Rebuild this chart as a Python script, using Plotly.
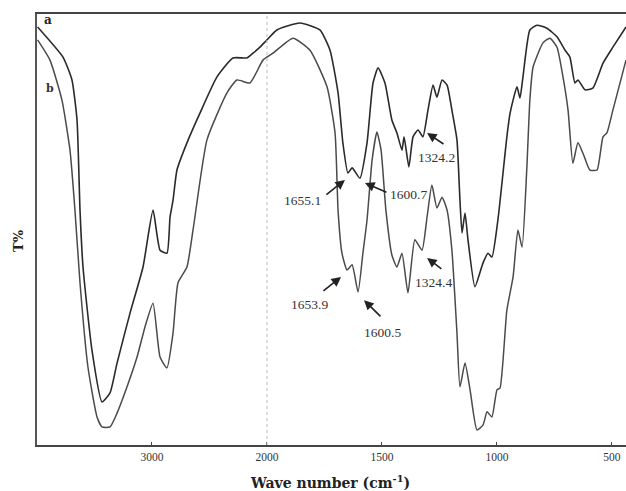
import numpy as np
import plotly.graph_objects as go

# ---- data (wavenumber cm^-1, transmittance %) ----
wn_a = [3995, 3774, 3696, 3652, 3626, 3600, 3522, 3435, 3365, 3304, 3191, 3078, 2991,
        2930, 2870, 2843, 2817, 2783, 2696, 2583, 2435, 2296, 2174, 2122, 2061, 2000,
        1957, 1857, 1770, 1726, 1691, 1670, 1648, 1630, 1596, 1565, 1539, 1517, 1487,
        1457, 1435, 1413, 1404, 1383, 1365, 1343, 1322, 1300, 1278, 1261, 1239, 1217,
        1196, 1174, 1161, 1152, 1139, 1126, 1096, 1061, 1039, 1022, 996, 957, 943, 913,
        900, 887, 857, 826, 783, 739, 704, 683, 661, 648, 617, 583, 539, 496, 439]
t_a = [97.0, 90.0, 84.7, 75.4, 54.5, 41.3, 22.0, 10.0, 12.1, 19.0, 30.6, 41.3, 54.5,
       45.2, 44.5, 52.9, 56.8, 63.8, 70.1, 77.0, 85.4, 89.8, 89.8, 90.9, 92.3, 94.0,
       96.3, 97.9, 96.3, 91.6, 81.7, 70.1, 63.1, 64.3, 61.9, 70.1, 84.0, 87.5, 84.0,
       75.4, 72.4, 68.4, 71.5, 64.5, 71.5, 73.1, 71.5, 77.7, 83.5, 80.7, 84.7, 83.5,
       77.7, 70.8, 56.8, 49.2, 53.8, 47.6, 36.7, 42.2, 44.5, 43.6, 52.2, 71.5, 77.0, 83.1,
       80.5, 85.4, 96.3, 97.4, 96.7, 94.7, 91.6, 90.0, 84.0, 84.7, 82.4, 82.8, 88.6, 92.3, 97.0]

wn_b = [3995, 3887, 3783, 3713, 3670, 3626, 3557, 3478, 3435, 3365, 3304, 3217, 3130,
        3061, 2991, 2930, 2870, 2817, 2774, 2696, 2643, 2522, 2348, 2261, 2148, 2035,
        1974, 1887, 1813, 1739, 1704, 1691, 1674, 1652, 1630, 1604, 1583, 1565, 1543,
        1522, 1504, 1483, 1457, 1435, 1413, 1387, 1357, 1326, 1304, 1283, 1261, 1239,
        1217, 1196, 1174, 1161, 1139, 1117, 1087, 1061, 1043, 1022, 1000, 987, 957, 930,
        909, 891, 870, 857, 843, 800, 770, 739, 713, 691, 670, 648, 626, 596, 565, 539,
        522, 496, 439]
t_b = [94.0, 89.3, 80.0, 68.4, 54.5, 37.6, 18.1, 6.5, 4.2, 4.2, 7.4, 13.5, 20.4,
       27.4, 32.9, 20.4, 17.9, 26.0, 37.6, 41.3, 49.9, 70.8, 81.7, 84.7, 84.0, 89.3,
       90.9, 94.4, 91.6, 83.1, 72.4, 54.5, 44.5, 40.6, 41.8, 35.5, 44.5, 52.2, 66.1,
       72.6, 68.4, 54.5, 44.1, 41.3, 44.5, 35.3, 47.6, 45.2, 52.9, 60.3, 55.0, 57.5,
       54.5, 45.2, 26.0, 13.5, 19.0, 12.8, 3.5, 4.6, 7.7, 6.5, 12.8, 13.2, 31.3, 39.0,
       49.9, 45.9, 64.5, 80.0, 87.7, 93.3, 94.4, 92.3, 85.4, 77.7, 65.4, 70.1, 67.7, 63.8,
       63.8, 71.5, 72.4, 77.7, 89.3]

tick_wn = [3000, 2000, 1500, 1000, 500]
tick_text = ["3000", "2000", "1500", "1000", "500"]

# peak labels: (text, head wn, head T, tail wn, tail T, text wn, text T)
peaks = [
    ("1655.1", 1661, 61.5, 1748, 57.8, 1844, 56.8),
    ("1600.7", 1574, 60.8, 1474, 58.5, 1383, 58.2),
    ("1324.2", 1304, 72.4, 1226, 69.6, 1265, 66.8),
    ("1653.9", 1678, 39.0, 1761, 35.5, 1817, 32.5),
    ("1600.5", 1578, 33.6, 1500, 29.5, 1496, 26.2),
    ("1324.4", 1304, 43.4, 1235, 40.6, 1278, 37.8),
]


def to_u(wn):
    """FTIR axis with halved scale above 2000 cm-1."""
    wn = np.asarray(wn, dtype=float)
    return np.where(wn > 2000, 2000 + (wn - 2000) / 2.0, wn)


fig = go.Figure()
fig.add_trace(go.Scatter(x=to_u(wn_a), y=t_a, mode="lines",
                         line=dict(color="#2a2a2a", width=1.6, shape="spline", smoothing=0.5),
                         showlegend=False))
fig.add_trace(go.Scatter(x=to_u(wn_b), y=t_b, mode="lines",
                         line=dict(color="#4a4a4a", width=1.5, shape="spline", smoothing=0.5),
                         showlegend=False))

serif = "Liberation Serif"
ann = []
for txt, hx, hy, tx, ty, lx, ly in peaks:
    ann.append(dict(x=float(to_u(hx)), y=hy, ax=float(to_u(tx)), ay=ty,
                    axref="x", ayref="y", xref="x", yref="y", text="",
                    showarrow=True, arrowhead=2, arrowsize=1.2, arrowwidth=1.6,
                    arrowcolor="#222"))
    ann.append(dict(x=float(to_u(lx)), y=ly, xref="x", yref="y", text=txt,
                    showarrow=False, font=dict(family=serif, size=13.5, color="#333")))

ann.append(dict(x=0.0085, y=0.985, xref="paper", yref="paper", text="<b>a</b>",
                showarrow=False, xanchor="left", yanchor="middle",
                font=dict(family="DejaVu Serif", size=12, color="#222")))
ann.append(dict(x=0.012, y=0.826, xref="paper", yref="paper", text="<b>b</b>",
                showarrow=False, xanchor="left", yanchor="middle",
                font=dict(family="DejaVu Serif", size=11, color="#333")))
ann.append(dict(x=0.498, y=-0.086, xref="paper", yref="paper",
                text="<b>Wave number (cm<sup>-1</sup>)</b>", showarrow=False,
                xanchor="center", yanchor="middle",
                font=dict(family="DejaVu Serif", size=14, color="#222")))
ann.append(dict(x=-0.031, y=0.475, xref="paper", yref="paper", text="<b>T%</b>",
                showarrow=False, textangle=-90, xanchor="center", yanchor="middle",
                font=dict(family="DejaVu Serif", size=13, color="#222")))

fig.add_shape(type="line", x0=2000, x1=2000, y0=0, y1=1, xref="x", yref="paper",
              line=dict(color="#bbbbbb", width=1, dash="dot"))

fig.update_layout(
    width=626, height=491,
    margin=dict(l=37, r=0, t=14, b=46),
    paper_bgcolor="white", plot_bgcolor="white",
    annotations=ann,
    xaxis=dict(range=[3000, 439], tickvals=list(to_u(tick_wn)), ticktext=tick_text,
               showgrid=False, zeroline=False, showline=True, mirror=True,
               linecolor="#444", linewidth=2, ticks="inside", ticklen=3,
               tickcolor="#444", tickfont=dict(family=serif, size=11.5, color="#333")),
    yaxis=dict(range=[0, 100], showticklabels=False, showgrid=False, zeroline=False,
               showline=True, linecolor="#555", linewidth=2, ticks=""),
)

fig.write_html("out.html", config={"displayModeBar": False},
               post_script="document.body.style.margin='0';document.body.style.padding='0';")
